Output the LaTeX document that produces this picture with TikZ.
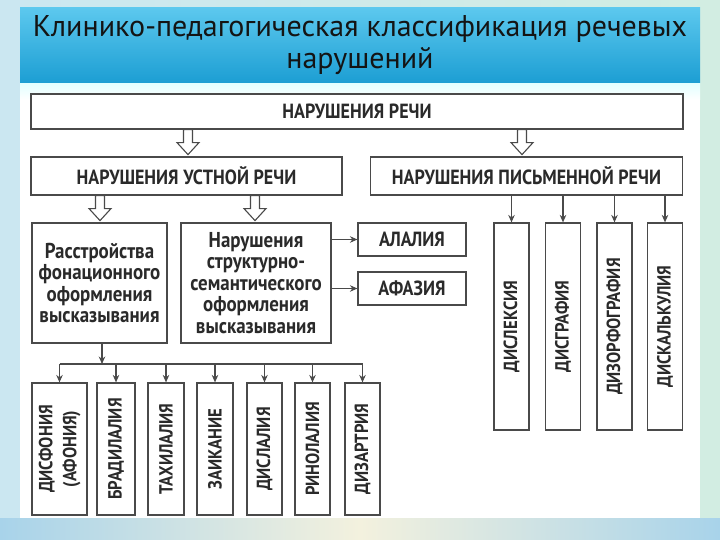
\documentclass[tikz,border=0pt]{standalone}
\usepackage{fontspec}
\usepackage{graphicx}
\setmainfont{PT Sans}
\newfontfamily\cond[FakeStretch=0.88]{PT Sans}
\usetikzlibrary{calc,arrows.meta}
\definecolor{bandtop}{HTML}{5CC8EE}
\definecolor{bandbot}{HTML}{1C9ED3}
\definecolor{bgl}{HTML}{CBE7F1}
\definecolor{bgr}{HTML}{D2EDE2}
\definecolor{bgb}{HTML}{A8D3EA}
\definecolor{bgm}{HTML}{F3F1DE}
\definecolor{edge}{HTML}{4A4A4A}
\definecolor{ink}{HTML}{2A2A2A}
\begin{document}
\begin{tikzpicture}[x=1pt,y=-1pt,
  box/.style={draw=edge, line width=1.2pt, fill=white, inner sep=0pt, align=center,
    text=ink, font=\cond\bfseries\fontsize{20.5}{24}\selectfont},
  bigbox/.style={box, font=\cond\bfseries\fontsize{21.5}{21.5}\selectfont},
  vbox/.style={box, minimum height=132, font=\cond\bfseries\fontsize{19}{24}\selectfont},
  tallbox/.style={box, minimum width=35, minimum height=207, font=\cond\bfseries\fontsize{19}{24}\selectfont},
  conn/.style={draw=edge, line width=1.1pt, -{Stealth[length=7.5pt,width=6.5pt]}},
  harrow/.pic={\draw[draw=edge, fill=white, line width=1.1pt, line join=miter]
     (-4.5,0) -- (4.5,0) -- (4.5,13) -- (11,13) -- (0,25) -- (-11,13) -- (-4.5,13) -- cycle;}
]
\useasboundingbox (0,0) rectangle (720,540);
% slide background
\shade[left color=bgl, right color=bgr] (0,0) rectangle (720,540);
\shade[left color=bgb, right color=bgb, middle color=bgm] (0,518) rectangle (720,540);
\fill[white] (20,83) rectangle (700,518);
\shade[top color=cyan!12, bottom color=white] (20,83) rectangle (700,100);
\shade[top color=bandtop, bottom color=bandbot] (20,8) rectangle (700,83);
\node[font=\fontsize{30}{32}\selectfont, align=center, text=black!92] (title) at (360,45)
  {Клинико-педагогическая классификация речевых\\нарушений};

% boxes
\node[box, minimum width=652, minimum height=35] (top) at (357,111.5) {НАРУШЕНИЯ РЕЧИ};
\node[box, minimum width=311, minimum height=38] (oral) at (186.5,176) {НАРУШЕНИЯ УСТНОЙ РЕЧИ};
\node[box, minimum width=312, minimum height=38] (writ) at (526.5,176) {НАРУШЕНИЯ ПИСЬМЕННОЙ РЕЧИ};
\node[bigbox, minimum width=135, minimum height=120] (phon) at (99.5,283)
  {Расстройства\\фонационного\\оформления\\высказывания};
\node[bigbox, minimum width=150, minimum height=120] (struct) at (256,283)
  {Нарушения\\структурно-\\семантического\\оформления\\высказывания};
\node[box, minimum width=108, minimum height=33] (alalia) at (412,239.5) {АЛАЛИЯ};
\node[box, minimum width=108, minimum height=33] (afazia) at (412,288.5) {АФАЗИЯ};

\node[tallbox] (w1) at (511.5,326.5) {\rotatebox{90}{ДИСЛЕКСИЯ}};
\node[tallbox] (w2) at (563,326.5) {\rotatebox{90}{ДИСГРАФИЯ}};
\node[tallbox] (w3) at (614.5,326.5) {\rotatebox{90}{ДИЗОРФОГРАФИЯ}};
\node[tallbox] (w4) at (665,326.5) {\rotatebox{90}{ДИСКАЛЬКУЛИЯ}};

\node[vbox, minimum width=55] (b1) at (59.5,449)
  {\rotatebox{90}{\begin{tabular}{@{}c@{}}ДИСФОНИЯ\\(АФОНИЯ)\end{tabular}}};
\node[vbox, minimum width=38] (b2) at (116,449) {\rotatebox{90}{БРАДИЛАЛИЯ}};
\node[vbox, minimum width=36] (b3) at (166,449) {\rotatebox{90}{ТАХИЛАЛИЯ}};
\node[vbox, minimum width=36] (b4) at (215,449) {\rotatebox{90}{ЗАИКАНИЕ}};
\node[vbox, minimum width=35] (b5) at (264.5,449) {\rotatebox{90}{ДИСЛАЛИЯ}};
\node[vbox, minimum width=35] (b6) at (312.5,449) {\rotatebox{90}{РИНОЛАЛИЯ}};
\node[vbox, minimum width=35] (b7) at (362.5,449) {\rotatebox{90}{ДИЗАРТРИЯ}};

% hollow arrows
\path (top.south -| 188,0) pic {harrow};
\path (top.south -| 522,0) pic {harrow};
\path (oral.south -| 100,0) pic {harrow};
\path (oral.south -| 255,0) pic {harrow};

% connectors
\draw[conn] (struct.east |- alalia.west) -- (alalia.west);
\draw[conn] (struct.east |- afazia.west) -- (afazia.west);
\foreach \w in {w1,w2,w3,w4}{
  \draw[conn] (writ.south -| \w.north) -- (\w.north);
}
\coordinate (bus) at (0,364);
\draw[conn] ([xshift=2.5pt]phon.south) -- ([xshift=2.5pt]phon.south |- bus);
\draw[draw=edge, line width=1.1pt] (b1.north |- bus) -- (b7.north |- bus);
\foreach \b in {b1,b2,b3,b4,b5,b6,b7}{
  \draw[conn] (\b.north |- bus) -- (\b.north);
}
\end{tikzpicture}
\end{document}
